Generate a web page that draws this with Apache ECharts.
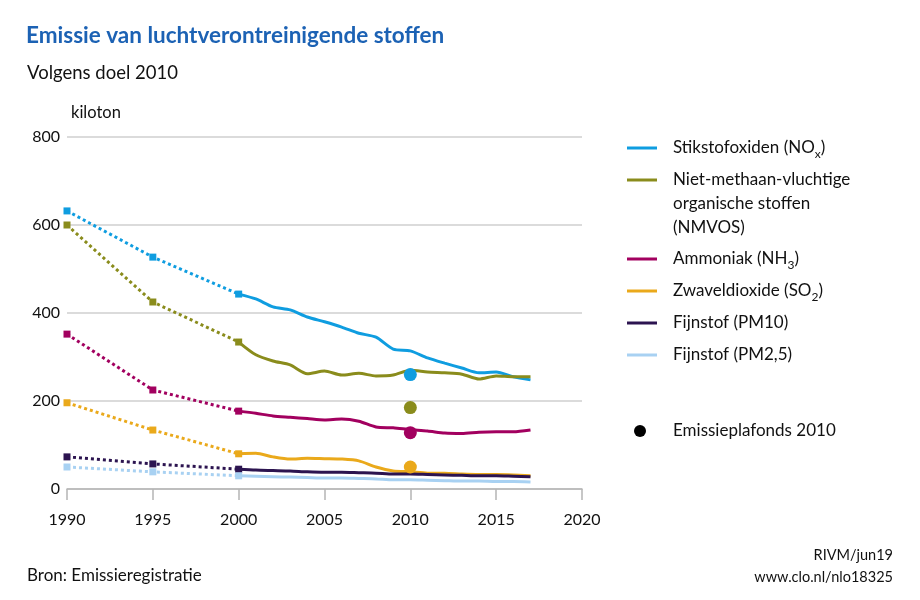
<!DOCTYPE html>
<html>
<head>
<meta charset="utf-8">
<script src="https://cdn.jsdelivr.net/npm/echarts@6/dist/echarts.min.js"></script>
<style>html,body{margin:0;padding:0;background:#fff;}#c{width:920px;height:600px;}</style>
</head>
<body>
<div id="c"></div>
<script>
// ---- data ----
var yearsHist = [1990, 1995, 2000];
var yearsRecent = [2000, 2001, 2002, 2003, 2004, 2005, 2006, 2007, 2008, 2009, 2010, 2011, 2012, 2013, 2014, 2015, 2016, 2017];
var xTicks = [1990, 1995, 2000, 2005, 2010, 2015, 2020];
var yTicks = [0, 200, 400, 600, 800];

var noxHist = [632, 527, 443];
var noxRecent = [443, 432, 414, 407, 391, 380, 368, 354, 345, 318, 314, 298, 286, 275, 264, 266, 255, 248];
var nmvosHist = [600, 425, 334];
var nmvosRecent = [334, 305, 291, 282, 262, 268, 259, 263, 257, 259, 270, 266, 264, 261, 250, 257, 255, 255];
var nh3Hist = [352, 225, 177];
var nh3Recent = [177, 172, 166, 163, 160, 157, 159, 154, 141, 139, 135, 132, 127, 126, 129, 130, 130, 134];
var so2Hist = [196, 134, 80];
var so2Recent = [80, 81, 73, 68, 70, 69, 68, 64, 50, 41, 39, 36, 36, 34, 33, 33, 32, 30];
var pm10Hist = [73, 57, 45];
var pm10Recent = [45, 43, 42, 41, 39, 38, 38, 37, 36, 34, 34, 33, 32, 31, 30, 30, 29, 28];
var pm25Hist = [50, 39, 30];
var pm25Recent = [30, 29, 28, 27, 26, 25, 25, 24, 23, 21, 21, 20, 19, 18, 18, 17, 17, 16];

var ceilingYear = 2010;
var ceilingNames = ['Stikstofoxiden (NOx)', 'Niet-methaan-vluchtige organische stoffen (NMVOS)', 'Ammoniak (NH3)', 'Zwaveldioxide (SO2)'];
var ceilingValues = [260, 185, 128, 50];

var seriesNames = ['Stikstofoxiden (NOx)', 'Niet-methaan-vluchtige organische stoffen (NMVOS)', 'Ammoniak (NH3)', 'Zwaveldioxide (SO2)', 'Fijnstof (PM10)', 'Fijnstof (PM2,5)'];
var histData = [noxHist, nmvosHist, nh3Hist, so2Hist, pm10Hist, pm25Hist];
var recentData = [noxRecent, nmvosRecent, nh3Recent, so2Recent, pm10Recent, pm25Recent];
var ceilingLabel = 'Emissieplafonds 2010';

// ---- styles ----
var colors = ['#0f9de0', '#8a8c1c', '#a2005f', '#eaa91b', '#2c1450', '#a8d1f2'];
var FONT = 'Lato, "Noto Sans", sans-serif';

function pairs(xs, ys) { return xs.map(function (x, i) { return [x, ys[i]]; }); }

var series = [];
for (var i = 0; i < seriesNames.length; i++) {
  series.push({
    name: seriesNames[i] + ' (1990-2000)',
    type: 'line',
    data: pairs(yearsHist, histData[i]),
    lineStyle: { color: colors[i], width: 3, type: [3, 3] },
    itemStyle: { color: colors[i] },
    symbol: 'rect', symbolSize: 7, showSymbol: true,
    z: 3 + i, silent: true
  });
  series.push({
    name: seriesNames[i],
    type: 'line',
    data: pairs(yearsRecent, recentData[i]),
    lineStyle: { color: colors[i], width: 3 },
    itemStyle: { color: colors[i] },
    showSymbol: false, symbol: 'none', smooth: 0.25,
    z: 3 + i
  });
}
series.push({
  name: ceilingLabel,
  type: 'scatter',
  symbolSize: 13,
  itemStyle: { color: '#000', opacity: 1 },
  z: 20,
  data: ceilingValues.map(function (v, i) {
    return { value: [ceilingYear, v], itemStyle: { color: colors[seriesNames.indexOf(ceilingNames[i])] } };
  })
});

var legendLabels = {};
legendLabels[seriesNames[0]] = 'Stikstofoxiden (NO{sub|x})';
legendLabels[seriesNames[1]] = 'Niet-methaan-vluchtige\norganische stoffen\n(NMVOS)';
legendLabels[seriesNames[2]] = 'Ammoniak (NH{sub|3})';
legendLabels[seriesNames[3]] = 'Zwaveldioxide (SO{sub|2})';
legendLabels[seriesNames[4]] = 'Fijnstof (PM10)';
legendLabels[seriesNames[5]] = 'Fijnstof (PM2,5)';
legendLabels[ceilingLabel] = ceilingLabel;

function legendText(pad) {
  return {
    fontFamily: FONT, fontSize: 17, color: '#111', lineHeight: 24, padding: pad,
    rich: { sub: { fontFamily: FONT, fontSize: 12, color: '#111', verticalAlign: 'bottom' } }
  };
}
function lineLegend(names, top) {
  return {
    data: names, orient: 'vertical', left: 627, top: top, padding: 0, itemGap: 8,
    icon: 'rect', itemWidth: 30, itemHeight: 3, selectedMode: false,
    formatter: function (n) { return legendLabels[n]; },
    textStyle: legendText([0, 0, 0, 11])
  };
}
var legNmvos = lineLegend([seriesNames[1]], 120);
legNmvos.textStyle = legendText([48, 0, 0, 11]);

var option = {
  animation: false,
  backgroundColor: '#fff',
  textStyle: { fontFamily: FONT },
  title: [
    { text: 'Emissie van luchtverontreinigende stoffen', left: 21, top: 19,
      textStyle: { fontFamily: FONT, fontSize: 22.5, fontWeight: 'bold', color: '#1c62b4' } },
    { text: 'Volgens doel 2010', left: 22, top: 59,
      textStyle: { fontFamily: FONT, fontSize: 18.5, fontWeight: 'normal', color: '#111' } },
    { text: 'Bron: Emissieregistratie', left: 22, top: 562,
      textStyle: { fontFamily: FONT, fontSize: 17, fontWeight: 'normal', color: '#111' } },
    { text: 'RIVM/jun19', right: 22, top: 543,
      textStyle: { fontFamily: FONT, fontSize: 14.5, fontWeight: 'normal', color: '#111' } },
    { text: 'www.clo.nl/nlo18325', right: 22, top: 565,
      textStyle: { fontFamily: FONT, fontSize: 14.5, fontWeight: 'normal', color: '#111' } }
  ],
  grid: { left: 67, right: 338, top: 137, bottom: 111, containLabel: false },
  xAxis: {
    type: 'value', min: xTicks[0], max: xTicks[xTicks.length - 1], interval: 5,
    axisLine: { show: true, lineStyle: { color: '#b5b5b5', width: 1.5 } },
    axisTick: { show: true, length: 11, lineStyle: { color: '#b5b5b5', width: 1.5 } },
    axisLabel: { margin: 23, fontFamily: FONT, fontSize: 16, color: '#111',
      formatter: function (v) { return xTicks.indexOf(v) >= 0 ? String(v) : ''; } },
    splitLine: { show: false }
  },
  yAxis: {
    type: 'value', min: yTicks[0], max: yTicks[yTicks.length - 1], interval: 200,
    name: 'kiloton', nameLocation: 'end', nameGap: 24,
    nameTextStyle: { fontFamily: FONT, fontSize: 16.5, color: '#111', align: 'left', verticalAlign: 'middle', padding: [0, 0, 0, 4] },
    axisLine: { show: false }, axisTick: { show: false },
    axisLabel: { margin: 7, fontFamily: FONT, fontSize: 16, color: '#111' },
    splitLine: { show: true, lineStyle: { color: '#cfcfcf', width: 1.5 } }
  },
  legend: [
    lineLegend([seriesNames[0]], 136),
    legNmvos,
    lineLegend([seriesNames[2], seriesNames[3], seriesNames[4], seriesNames[5]], 247),
    {
      data: [{ name: ceilingLabel, itemStyle: { color: '#000' } }], orient: 'vertical', left: 634, top: 419, padding: 0,
      icon: 'circle', itemWidth: 12, itemHeight: 12, selectedMode: false,
      formatter: function (n) { return legendLabels[n]; },
      textStyle: legendText([0, 0, 0, 22])
    }
  ],
  series: series
};

var chart = echarts.init(document.getElementById('c'), null, { renderer: 'canvas' });
chart.setOption(option);
</script>
</body>
</html>
